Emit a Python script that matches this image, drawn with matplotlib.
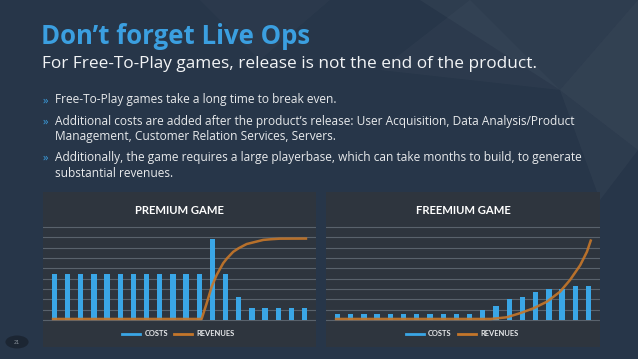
import matplotlib.pyplot as plt
from matplotlib.patches import Rectangle, Polygon, Circle
from matplotlib.lines import Line2D

W, H = 638, 359

# chart data (units = gridline steps)
months = list(range(20))
premium_costs = [4.5, 4.5, 4.5, 4.5, 4.5, 4.5, 4.5, 4.5, 4.5, 4.5, 4.5, 4.5,
                 7.85, 4.5, 2.2, 1.13, 1.13, 1.13, 1.13, 1.13]
premium_rev_x = [-0.2, 11.18, 11.56, 11.94, 12.32, 12.82, 13.1, 13.58, 14.0,
                 14.6, 15.86, 16.5, 17.12, 19.2]
premium_rev = [0.1, 0.1, 1.6, 3.2, 4.35, 5.5, 5.95, 6.6, 6.95,
               7.35, 7.75, 7.82, 7.87, 7.88]

freemium_costs = [0.55, 0.55, 0.55, 0.55, 0.55, 0.55, 0.55, 0.55, 0.55, 0.55, 0.55,
                  0.97, 1.35, 2.0, 2.2, 2.75, 2.97, 2.97, 3.3, 3.3]
freemium_rev_x = [-0.2, 11.6, 12.8, 13.8, 14.83, 15.85, 16.85, 17.6, 18.37, 18.88, 19.2]
freemium_rev = [0.1, 0.1, 0.26, 0.65, 1.13, 1.77, 2.74, 3.87, 5.3, 6.6, 7.8]

title = "Don\u2019t forget Live Ops"
subtitle = "For Free-To-Play games, release is not the end of the product."
bullets = [
    ["Free-To-Play games take a long time to break even."],
    ["Additional costs are added after the product\u2019s release: User Acquisition, Data Analysis/Product",
     "Management, Customer Relation Services, Servers."],
    ["Additionally, the game requires a large playerbase, which can take months to build, to generate",
     "substantial revenues."],
]

BG = "#273649"
PANEL = "#2e353e"
BLUE = "#3aa6e6"
ORANGE = "#c4762a"
GRID = "#59626c"


def fx(px):
    return px / W


def fy(py):
    return 1 - py / H


fig = plt.figure(figsize=(W / 100, H / 100), dpi=100, facecolor=BG)

# faint low-poly background facets
facets = [
    [(420, 0), (638, 0), (560, 90)],
    [(560, 90), (638, 0), (638, 150)],
    [(470, 0), (560, 90), (380, 70)],
    [(560, 90), (638, 150), (600, 200)],
    [(200, 0), (330, 0), (260, 60)],
]
alphas = [0.035, 0.055, 0.025, 0.03, 0.02]
for pts, a in zip(facets, alphas):
    fig.add_artist(Polygon([(fx(x), fy(y)) for x, y in pts], closed=True,
                           transform=fig.transFigure, facecolor="white",
                           alpha=a, edgecolor="none", zorder=0))

# header text
fig.text(fx(41), fy(44.5), title, color="#3b9fe0", fontsize=18.5,
         fontweight="bold", family="Open Sans", va="baseline")
fig.text(fx(42), fy(68), subtitle, color="#f2f4f6", fontsize=12.4,
         family="Open Sans", va="baseline")

line_y = [[103.3], [125, 140], [161, 176.7]]
for lines, ys in zip(bullets, line_y):
    fig.text(fx(43), fy(ys[0]), "\u00bb", color="#3b9fe0", fontsize=8,
             family="Open Sans", va="baseline")
    for t, y in zip(lines, ys):
        fig.text(fx(55), fy(y), t, color="#e8eaec", fontsize=8.58,
                 family="Open Sans", va="baseline")

# page number
fig.add_artist(Circle((fx(17), fy(342)), 6.5 / H, transform=fig.transFigure,
                      facecolor="#1c2633", edgecolor="none"))
fig.text(fx(17), fy(342), "21", color="#8a939c", fontsize=3.5,
         ha="center", va="center")


def chart(x0, x1, name, costs, rev_x, rev):
    fig.add_artist(Rectangle((fx(x0), fy(347)), fx(x1 - x0), (347 - 192) / H,
                             transform=fig.transFigure, facecolor=PANEL,
                             edgecolor="none", zorder=0))
    ymin, ymax = -0.3, 9.1
    unit = (320 - 227) / 9
    bottom = 320 + (0 - ymin) * unit
    top = 227 - (ymax - 9) * unit
    ax = fig.add_axes([fx(x0), fy(bottom), fx(x1 - x0), (bottom - top) / H])
    ax.set_facecolor("none")
    ax.set_xlim(-0.87, 19.87)
    ax.set_ylim(ymin, ymax)
    ax.set_yticks(range(10))
    ax.yaxis.grid(True, color=GRID, lw=0.8)
    ax.set_axisbelow(True)
    ax.tick_params(length=0, labelleft=False, labelbottom=False)
    for s in ax.spines.values():
        s.set_visible(False)
    ax.bar(months, costs, width=0.4, color=BLUE, zorder=2)
    ax.plot(rev_x, rev, color=ORANGE, lw=1.8, alpha=0.92, zorder=3,
            solid_capstyle="butt")
    cx = (x0 + x1) / 2
    fig.text(fx(cx), fy(210), name, color="white", fontsize=8.1,
             fontweight="bold", family="Lato", ha="center", va="center")
    handles = [Line2D([], [], color=BLUE, lw=2), Line2D([], [], color=ORANGE, lw=2)]
    leg = ax.legend(handles, ["COSTS", "REVENUES"], ncol=2, loc="center",
                    bbox_to_anchor=(fx(cx - 1), fy(333.7)),
                    bbox_transform=fig.transFigure, frameon=False,
                    handlelength=2.4, handletextpad=0.6, columnspacing=0.8,
                    prop={"family": "Lato", "size": 5.4, "weight": "bold"})
    for t in leg.get_texts():
        t.set_color("#e8eaec")


chart(43, 316, "PREMIUM GAME", premium_costs, premium_rev_x, premium_rev)
chart(326, 600, "FREEMIUM GAME", freemium_costs, freemium_rev_x, freemium_rev)

fig.savefig("out.png", dpi=100, facecolor=BG)
